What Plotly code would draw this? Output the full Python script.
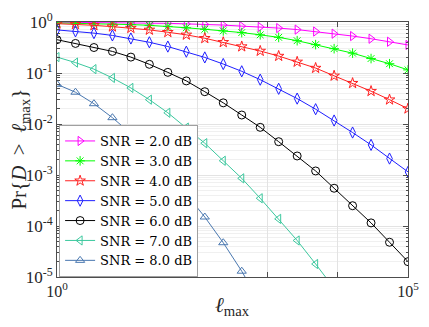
import numpy as np
import plotly.graph_objects as go

# ell_max sample points (20 log-spaced markers from 1 to 1e5)
l_max = np.logspace(0, 5, 20)

snr_labels = ["SNR = 2.0 dB", "SNR = 3.0 dB", "SNR = 4.0 dB", "SNR = 5.0 dB",
              "SNR = 6.0 dB", "SNR = 7.0 dB", "SNR = 8.0 dB"]

p_snr2 = [0.99, 0.985, 0.98, 0.97, 0.96, 0.95, 0.94, 0.92, 0.90, 0.87,
          0.83, 0.80, 0.76, 0.71, 0.65, 0.59, 0.53, 0.47, 0.41, 0.355]
p_snr3 = [0.96, 0.95, 0.93, 0.91, 0.89, 0.86, 0.82, 0.77, 0.72, 0.67,
          0.62, 0.56, 0.50, 0.43, 0.36, 0.30, 0.245, 0.192, 0.152, 0.115]
p_snr4 = [0.93, 0.90, 0.86, 0.81, 0.76, 0.70, 0.63, 0.56, 0.48, 0.40,
          0.33, 0.27, 0.215, 0.165, 0.125, 0.088, 0.063, 0.044, 0.030, 0.020]
p_snr5 = [0.70, 0.655, 0.605, 0.545, 0.475, 0.40, 0.33, 0.262, 0.202, 0.150,
          0.108, 0.074, 0.049, 0.0315, 0.0195, 0.0117, 0.0068, 0.0039, 0.0021, 0.00115]
p_snr6 = [0.45, 0.38, 0.316, 0.265, 0.205, 0.148, 0.103, 0.070, 0.043, 0.026,
          0.015, 0.0086, 0.0045, 0.00236, 0.0012, 0.00055, 0.00025, 0.000115, 4.8e-5, 2.0e-5]
p_snr7 = [0.205, 0.16, 0.119, 0.080, 0.051, 0.030, 0.0166, 0.0085, 0.0042, 0.0019,
          0.00086, 0.00035, 0.000138, 5.2e-5, 1.8e-5, 6e-6]
p_snr8 = [0.060, 0.042, 0.025, 0.0133, 0.0065, 0.0030, 0.0012, 0.00042, 0.00015, 4.7e-5,
          1.3e-5, 3e-6]

series = [p_snr2, p_snr3, p_snr4, p_snr5, p_snr6, p_snr7, p_snr8]
colors = ["#ff00ff", "#00ff00", "#ff2020", "#1f1fff", "#000000", "#3cc89e", "#4a78b0"]
symbols = ["triangle-right-open", "asterisk-open", "star-open", "diamond-tall-open",
           "circle-open", "triangle-left-open", "triangle-up-open"]

fig = go.Figure()
for name, p, c, s in zip(snr_labels, series, colors, symbols):
    fig.add_trace(go.Scatter(
        x=l_max[:len(p)], y=p, name=name, mode="lines+markers",
        line=dict(color=c, width=1),
        marker=dict(symbol=s, size=8, color=c, line=dict(color=c, width=1)),
    ))

font = "Liberation Serif, DejaVu Serif, serif"
x_ticks = [1, 10, 100, 1e3, 1e4, 1e5]
x_text = ["10<sup>0</sup>", "", "", "", "", "10<sup>5</sup>"]
y_ticks = [1e-5, 1e-4, 1e-3, 1e-2, 1e-1, 1]
y_text = ["10<sup>-5</sup>", "10<sup>-4</sup>", "10<sup>-3</sup>",
          "10<sup>-2</sup>", "10<sup>-1</sup>", "10<sup>0</sup>"]
y_minor = [m * 10.0 ** e for e in range(-5, 0) for m in range(2, 10)]

axis_common = dict(
    type="log", showline=True, linecolor="#4d4d4d", linewidth=1, mirror="ticks",
    ticks="inside", ticklen=5, tickcolor="#4d4d4d", showgrid=True,
    gridcolor="#e3e3e3", gridwidth=1, zeroline=False, ticklabeloverflow="allow",
    tickfont=dict(family=font, size=17, color="#262626"),
)

fig.update_xaxes(axis_common, range=[0, 5], tickmode="array", tickvals=x_ticks,
                 ticktext=x_text, tickfont_size=16)
fig.update_yaxes(axis_common, range=[-5, 0], tickmode="array", tickvals=y_ticks,
                 ticktext=y_text,
                 minor=dict(tickmode="array", tickvals=y_minor, showgrid=True,
                            gridcolor="#f0f0f0", ticks="inside", ticklen=2.5,
                            tickcolor="#4d4d4d"))

# axis labels as annotations so they sit where the reference has them
fig.add_annotation(text="<i>ℓ</i><sub>max</sub>", xref="paper", yref="paper",
                   x=0.5, y=-0.115, xanchor="center", yanchor="middle",
                   showarrow=False, font=dict(family=font, size=21, color="#262626"))
fig.add_annotation(text="Pr{<i>D</i>  >  <i>ℓ</i><sub>max</sub>}", xref="paper", yref="paper",
                   x=-0.108, y=0.5, xanchor="center", yanchor="middle", textangle=-90,
                   showarrow=False, font=dict(family=font, size=21, color="#262626"))

fig.update_layout(
    width=429, height=327,
    margin=dict(l=57, r=14, t=10, b=50),
    paper_bgcolor="white", plot_bgcolor="white",
    showlegend=True,
    legend=dict(x=0.006, y=0.0, xanchor="left", yanchor="bottom",
                bgcolor="white", bordercolor="#a0a0a0", borderwidth=1,
                font=dict(family="DejaVu Serif, serif", size=13, color="#000000"),
                itemwidth=30, tracegroupgap=0),
)

# drop the browser's default page margin so the figure fills the window
fig.write_html("out.html", config={"displayModeBar": False},
               post_script="document.body.style.margin='0px';")
